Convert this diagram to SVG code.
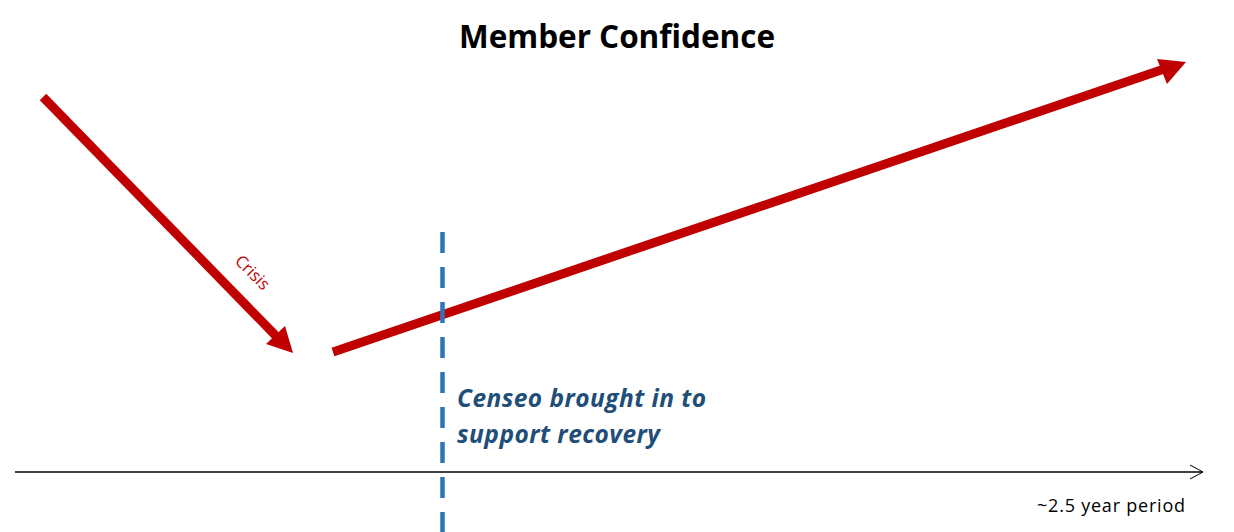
<svg xmlns="http://www.w3.org/2000/svg" width="1234" height="532" viewBox="0 0 1234 532">
<style>
.red{stroke:#c00000;stroke-width:9;fill:none}
.title{font-family:"Open Sans","Liberation Sans",sans-serif;font-weight:bold;font-size:31.5px;fill:#000}
.note{font-family:"Open Sans","Liberation Sans",sans-serif;font-weight:bold;font-style:italic;font-size:24.5px;fill:#1f4e79}
.small{font-family:"Open Sans","Liberation Sans",sans-serif;font-size:18px;fill:#000}
.crisis{font-family:"Open Sans","Liberation Sans",sans-serif;font-size:16.5px;fill:#c00000}
</style>
<rect width="1234" height="532" fill="#fff"/>
<g id="title"><text class="title" x="617" y="48" text-anchor="middle" textLength="316">Member Confidence</text></g>
<g id="connectors">
<line id="crisis-arrow" class="red" x1="43" y1="97" x2="277" y2="337"/>
<polygon fill="#c00000" points="293,353 266,344 285,326"/>
<line id="recovery-arrow" class="red" x1="333" y1="352" x2="1164" y2="69"/>
<polygon fill="#c00000" points="1186,62 1157,59 1167,84"/>
<line id="axis" x1="15" y1="472" x2="1202" y2="472" stroke="#000" stroke-width="1.3"/>
<polyline points="1190,465 1203,472 1190,479" fill="none" stroke="#000" stroke-width="1"/>
<line id="marker-line" x1="442.5" y1="232" x2="442.5" y2="532" stroke="#2e75b6" stroke-width="4.5" stroke-dasharray="21 14"/>
</g>
<g id="crisis-label"><text class="crisis" transform="translate(234,262) rotate(45)">Crisis</text></g>
<g id="censeo-label">
<text class="note" x="457" y="407" textLength="249">Censeo brought in to</text>
<text class="note" x="457" y="443" textLength="203">support recovery</text>
</g>
<g id="period-label"><text class="small" x="1037" y="512" textLength="148">~2.5 year period</text></g>
</svg>
